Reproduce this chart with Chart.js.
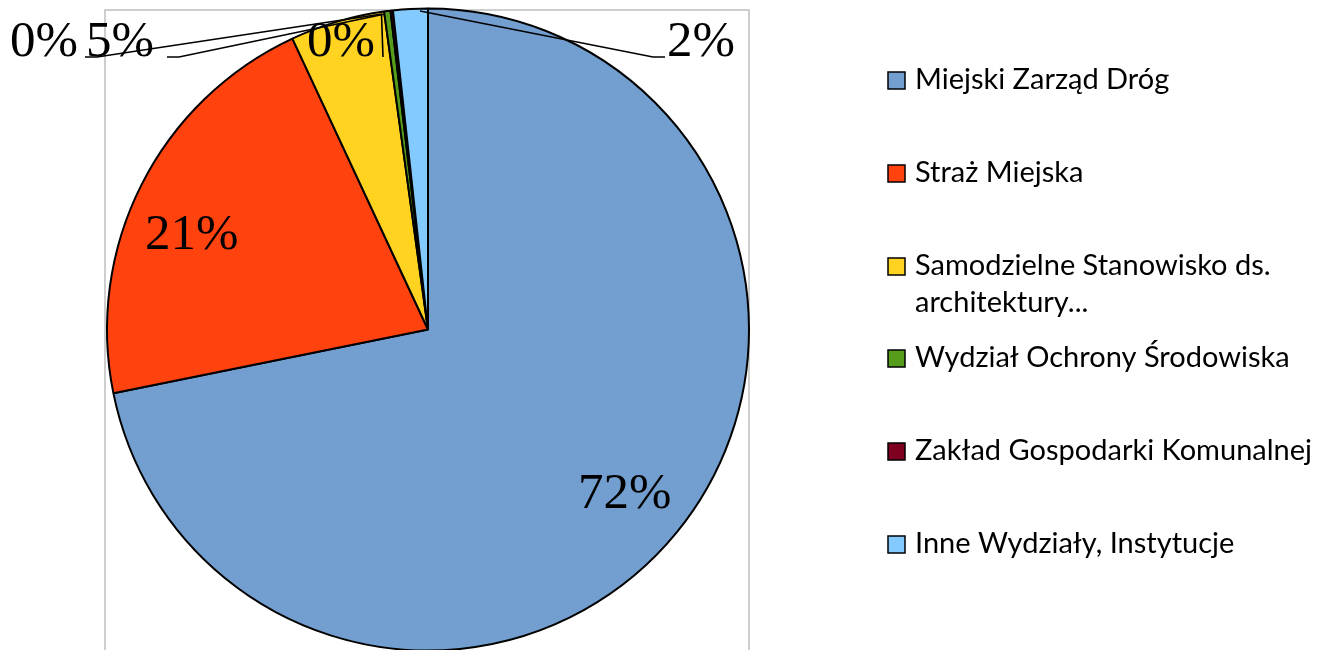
<!DOCTYPE html>
<html><head><meta charset="utf-8">
<script src="https://cdn.jsdelivr.net/npm/chart.js@4/dist/chart.umd.min.js"></script>
<style>html,body{margin:0;padding:0;background:#fff;overflow:hidden}#wrap{position:relative;width:1321px;height:650px}</style>
</head><body><div id="wrap"><canvas id="c" width="1321" height="650"></canvas></div>
<script>
// ---- data ----
const categories = ['Miejski Zarząd Dróg','Straż Miejska','Samodzielne Stanowisko ds. architektury...','Wydział Ochrony Środowiska','Zakład Gospodarki Komunalnej','Inne Wydziały, Instytucje'];
const legendLines = [['Miejski Zarząd Dróg'],['Straż Miejska'],['Samodzielne Stanowisko ds.','architektury...'],['Wydział Ochrony Środowiska'],['Zakład Gospodarki Komunalnej'],['Inne Wydziały, Instytucje']];
const shares = [71.7, 21.2, 4.75, 0.32, 0.12, 1.74];
const colors = ['#729fcf','#ff420e','#ffd320','#579d1c','#7e0021','#83caff'];

// ---- styles / layout ----
const labelPos = [[578,508],[145,249],[86,56],[307,56],[10,56],[667,56]]; // left x, baseline
const leaders = [
  [[85,57],[97,57],[382,14]],
  [[167,57],[179,57],[385,14]],
  [[381.5,14],[383,57]],
  [[420,11],[653,57],[665,57]]
];
const legendBaselines = [89,182,275,367,460,553];
const legendLineGap = 37;

const total = shares.reduce((a,b)=>a+b,0);
const pctText = shares.map(v => Math.round(v/total*100) + '%');

const decor = {
  id:'decor',
  beforeDatasetsDraw(chart){
    const ctx = chart.ctx;
    ctx.save();
    ctx.strokeStyle = '#bfbfbf';
    ctx.lineWidth = 1.5;
    ctx.strokeRect(105, 10, 644, 660);
    ctx.restore();
  },
  afterDatasetsDraw(chart){
    const ctx = chart.ctx;
    ctx.save();
    ctx.strokeStyle = '#000';
    ctx.lineWidth = 1.6;
    leaders.forEach(pts => {
      ctx.beginPath();
      pts.forEach((p,i)=> i? ctx.lineTo(p[0],p[1]) : ctx.moveTo(p[0],p[1]));
      ctx.stroke();
    });
    ctx.fillStyle = '#000';
    ctx.font = '51px "Liberation Serif", "Times New Roman", serif';
    ctx.textBaseline = 'alphabetic';
    ctx.textAlign = 'left';
    pctText.forEach((t,i)=> ctx.fillText(t, labelPos[i][0], labelPos[i][1]));

    // legend
    const fam = 'Lato, "Open Sans", sans-serif';
    ctx.font = '100px ' + fam;
    const w = ctx.measureText('Zakład Gospodarki Komunalnej').width;
    const size = 100 * 397 / w;
    ctx.font = size.toFixed(2) + 'px ' + fam;
    chart.data.labels.forEach((lab,i)=>{
      const b = legendBaselines[i];
      ctx.fillStyle = colors[i];
      ctx.fillRect(888, b-17, 17, 17);
      ctx.strokeStyle = '#000';
      ctx.lineWidth = 1.5;
      ctx.strokeRect(888, b-17, 17, 17);
      ctx.fillStyle = '#000';
      legendLines[i].forEach((ln,j)=> ctx.fillText(ln, 915, b + j*legendLineGap));
    });
    ctx.restore();
  }
};

new Chart(document.getElementById('c'), {
  type:'pie',
  data:{ labels: categories, datasets:[{ data: shares, backgroundColor: colors, borderColor:'#000', borderWidth:2, radius: 321 }]},
  options:{
    responsive:false, animation:false,
    layout:{ padding:{ left:107, right:572, top:9, bottom:0 } },
    plugins:{ legend:{display:false}, tooltip:{enabled:false} }
  },
  plugins:[decor]
});
</script></body></html>
